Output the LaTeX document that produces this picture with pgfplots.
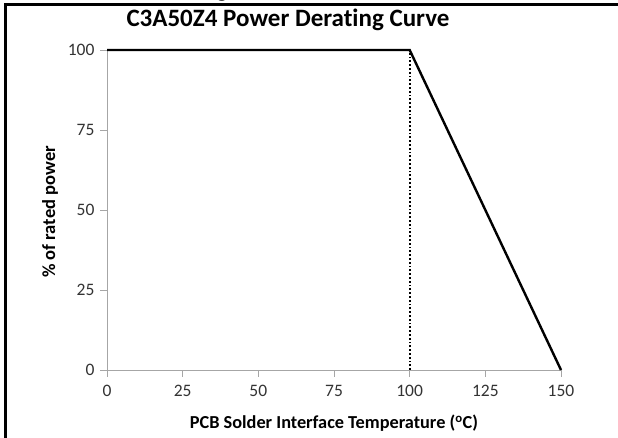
\documentclass[border=0pt]{standalone}
\usepackage{pgfplots}
\pgfplotsset{compat=1.18}
\usepackage{fontspec}
\setmainfont{Carlito}[Ligatures=NoCommon]

\begin{document}
\begin{tikzpicture}[x=1pt,y=1pt]
\useasboundingbox (0,0) rectangle (618,438);
% outer frame (cropped on right and bottom)
\draw[line width=3pt] (5,-5) -- (5,433) -- (625,433);
% fragment of text above the chart
\node[anchor=base, font=\bfseries\fontsize{22}{24}\selectfont] at (222,440) {g};
\node[font=\bfseries\fontsize{25}{28}\selectfont] at (288,418) {C3A50Z4 Power Derating Curve};
\node[rotate=90, font=\bfseries\fontsize{18.5}{20}\selectfont] at (50,226) {\% of rated power};
\node[font=\bfseries\fontsize{18.3}{20}\selectfont] at (334,15) {PCB Solder Interface Temperature (\textsuperscript{o}C)};

\begin{axis}[
  at={(107pt,68pt)}, anchor=origin,
  scale only axis,
  width=454pt, height=320pt,
  xmin=0, xmax=150, ymin=0, ymax=100,
  xtick={0,25,...,150}, ytick={0,25,...,100},
  axis x line*=bottom, axis y line*=left,
  axis line style={draw=gray!70, line width=0.8pt},
  tick align=outside,
  major tick length=7pt,
  tick style={draw=gray!70, line width=0.8pt},
  ticklabel style={font=\fontsize{17.5}{20}\selectfont, text=black!80},
  /pgf/number format/assume math mode=true,
  xticklabel style={yshift=-5pt},
  yticklabel style={xshift=-2pt},
  clip=false,
]
\addplot[black, dotted, line width=1.8pt] coordinates {(100,0) (100,100)};
\addplot[black, line width=2.4pt] coordinates {(0,100) (100,100) (150,0)};
\end{axis}
\end{tikzpicture}
\end{document}
